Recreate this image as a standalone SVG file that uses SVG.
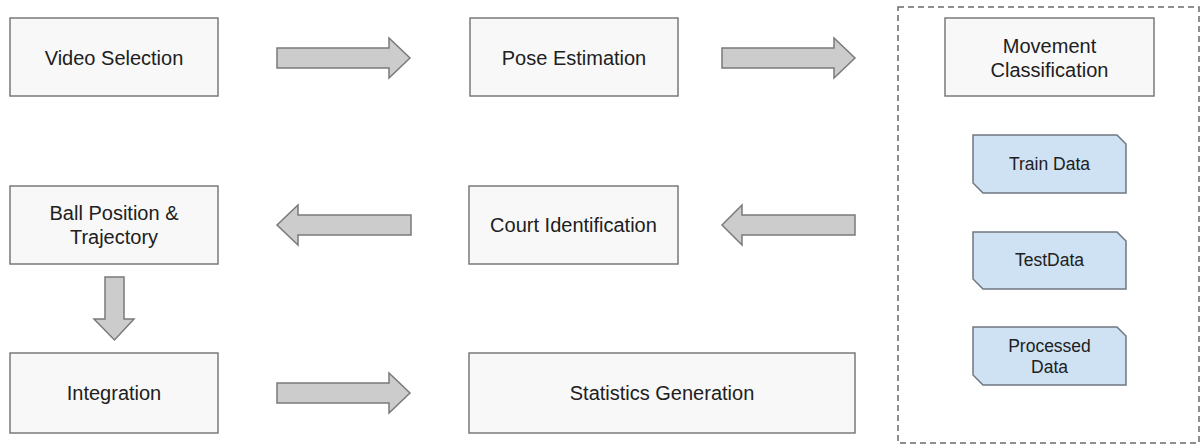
<svg xmlns="http://www.w3.org/2000/svg" width="1203" height="446" viewBox="0 0 1203 446">
  <style>
    .box { fill: #f8f8f8; stroke: #7a7a7a; stroke-width: 1.5; }
    .data { fill: #cfe2f3; stroke: #6f7780; stroke-width: 1.5; }
    .arrow { fill: #cccccc; stroke: #7a7a7a; stroke-width: 1.5; stroke-linejoin: miter; }
    .frame { fill: none; stroke: #6a6a6a; stroke-width: 1.5; stroke-dasharray: 6 4; }
    .lbl { font-family: "Liberation Sans", Arial, sans-serif; font-size: 20px; fill: #202020; text-anchor: middle; }
    .sm { font-family: "Liberation Sans", Arial, sans-serif; font-size: 17.5px; fill: #202020; text-anchor: middle; }
  </style>
  <rect width="1203" height="446" fill="#ffffff"/>

  <!-- container for the classification stage -->
  <rect id="classification-group" class="frame" x="898" y="7" width="301" height="436"/>

  <g id="video-selection">
    <rect class="box" x="10" y="18" width="208" height="78"/>
    <text class="lbl" x="114" y="65">Video Selection</text>
  </g>
  <g id="pose-estimation">
    <rect class="box" x="470" y="18" width="208" height="78"/>
    <text class="lbl" x="574" y="65">Pose Estimation</text>
  </g>
  <g id="movement-classification">
    <rect class="box" x="945" y="18" width="209" height="78"/>
    <text class="lbl" x="1049.5" y="53">Movement</text>
    <text class="lbl" x="1049.5" y="77">Classification</text>
  </g>
  <g id="train-data">
    <path class="data" d="M973 135 H1117 L1126 144 V193 H983 L973 183 Z"/>
    <text class="sm" x="1049.5" y="170">Train Data</text>
  </g>
  <g id="test-data">
    <path class="data" d="M973 232 H1117 L1126 241 V289 H983 L973 279 Z"/>
    <text class="sm" x="1049.5" y="266">TestData</text>
  </g>
  <g id="processed-data">
    <path class="data" d="M973 327 H1117 L1126 336 V385 H983 L973 375 Z"/>
    <text class="sm" x="1049.5" y="352">Processed</text>
    <text class="sm" x="1049.5" y="373">Data</text>
  </g>
  <g id="ball-position">
    <rect class="box" x="10" y="186" width="208" height="78"/>
    <text class="lbl" x="114" y="220">Ball Position &amp;</text>
    <text class="lbl" x="114" y="244">Trajectory</text>
  </g>
  <g id="court-identification">
    <rect class="box" x="469" y="186" width="209" height="78"/>
    <text class="lbl" x="573.5" y="232">Court Identification</text>
  </g>
  <g id="integration">
    <rect class="box" x="10" y="353" width="208" height="80"/>
    <text class="lbl" x="114" y="400">Integration</text>
  </g>
  <g id="statistics-generation">
    <rect class="box" x="469" y="353" width="386" height="80"/>
    <text class="lbl" x="662" y="400">Statistics Generation</text>
  </g>

  <g id="connectors">
    <!-- right-pointing block arrows -->
    <path class="arrow" d="M277 48 H389 V38 L410 58 L389 78 V68 H277 Z"/>
    <path class="arrow" d="M722 48 H834 V38 L855 58 L834 78 V68 H722 Z"/>
    <path class="arrow" d="M277 383 H389 V373 L410 393 L389 413 V403 H277 Z"/>
    <!-- left-pointing block arrows -->
    <path class="arrow" d="M411 215 H298 V205 L277 225 L298 245 V235 H411 Z"/>
    <path class="arrow" d="M855 215 H742 V205 L722 225 L742 245 V235 H855 Z"/>
    <!-- downward block arrow -->
    <path class="arrow" d="M105 277 H124 V319 H134 L114.5 340 L94 319 H105 Z"/>
  </g>
</svg>
